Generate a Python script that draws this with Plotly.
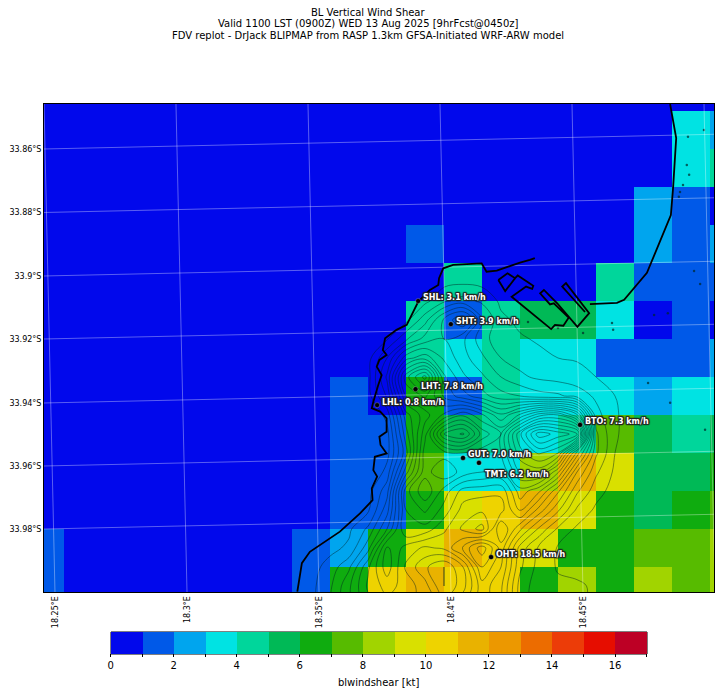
import plotly.graph_objects as go

# Model grid: cell index (i across, j down), one cell = 1.3 km
shear_kt = [
    [0.5]*19,
    [0.5]*17 + [3.5, 2.5],
    [0.5]*17 + [3.5, 4.5],
    [0.5]*16 + [2.5, 1.5, 0.5],
    [0.5]*10 + [1.5] + [0.5]*5 + [2.5, 1.5, 2.5],
    [0.5]*11 + [4.5] + [0.5]*3 + [4.5, 1.5, 1.5, 1.5],
    [0.5]*10 + [4.5, 1.5, 4.5, 5.5, 5.5, 3.5, 0.5, 1.5, 0.5],
    [0.5]*10 + [4.5, 3.5, 4.5, 3.5, 3.5, 1.5, 1.5, 1.5, 2.5],
    [0.5]*8 + [1.5, 0.5, 6.5, 1.5, 4.5, 3.5, 3.5, 3.5, 2.5, 3.5, 3.5],
    [0.5]*8 + [1.5, 1.5, 6.5, 5.5, 4.5, 3.5, 4.5, 7.5, 5.5, 4.5, 5.5],
    [0.5]*8 + [1.5, 1.5, 7.5, 3.5, 3.5, 8.5, 11.5, 9.5, 5.5, 5.5, 6.5],
    [0.5]*8 + [1.5, 1.5, 6.5, 9.5, 10.5, 11.5, 9.5, 6.5, 5.5, 6.5, 7.5],
    [1.5] + [0.5]*6 + [1.5, 2.5, 6.5, 9.5, 11.5, 10.5, 9.5, 6.5, 6.5, 7.5, 7.5, 8.5],
    [1.5] + [0.5]*6 + [1.5, 6.5, 10.5, 11.5, 10.5, 10.5, 6.5, 8.5, 6.5, 8.5, 7.5, 8.5],
]

level_colors = [
    "#0108ec", "#0059e8", "#00a5ee", "#00e3e3", "#00d69b", "#00b956",
    "#0fac0f", "#57bb00", "#a1d400", "#d9e000", "#eed300", "#e9b200",
    "#ec9800", "#ec6c00", "#ec3c08", "#e60d00", "#bd0025",
]

title_lines = [
    "BL Vertical Wind Shear",
    "Valid 1100 LST (0900Z) WED 13 Aug 2025 [9hrFcst@0450z]",
    "FDV replot - DrJack BLIPMAP from RASP 1.3km GFSA-Initiated WRF-ARW model",
]

# Lat/lon graticule in grid coordinates (it is slanted on the model grid)
lon_labels = ["18.25°E", "18.3°E", "18.35°E", "18.4°E", "18.45°E"]
lon_top_i = [-0.026, 3.447, 6.921, 10.395, 13.868, 17.342]
lon_bottom_i = [0.263, 3.737, 7.211, 10.684, 14.158, 17.632]
lat_labels = ["33.86°S", "33.88°S", "33.9°S", "33.92°S", "33.94°S", "33.96°S", "33.98°S"]
lat_left_j = [1.5, 3.171, 4.842, 6.5, 8.184, 9.842, 11.5]
lat_right_j = [1.113, 2.784, 4.455, 6.113, 7.797, 9.455, 11.113]

# Coastline pieces, None breaks the line
coast_i = [16.45, 16.61, 16.53, 16.47, 15.84, 15.24, 15.05, 14.34, None,
           12.89, 12.76, 12.5, 12.15, 11.89, 11.62, 11.49, 11.1, 10.74, 10.48, 10.37, 10.35, 10.13,
           9.82, 9.52, 9.25, 8.95, 8.89, 8.99, 8.8, 8.73, 8.86, 8.77, 8.64, 8.6, 8.82, 8.99, 8.99,
           8.8, 8.83, 8.99, 8.68, 8.64, 8.74, 8.6, 8.62, 8.29, 7.76, 6.97, 6.76, 6.64, None,
           11.93, 12.17, 12.37, 12.44, 12.85, 12.82, 12.66, 12.28, 13.32, 13.42, 13.64, 13.78, 13.39,
           13.29, 13.03, 13.13, 13.48, 14.01, 14.32, 13.71, 13.61, 14.21, None,
           11.93, 12.11, 12.37]
coast_j = [0.32, 1.21, 2.5, 3.24, 4.76, 5.47, 5.55, 5.58, None,
           4.37, 4.42, 4.49, 4.6, 4.7, 4.73, 4.51, 4.53, 4.55, 4.64, 4.9, 5.08, 5.21,
           5.52, 6.13, 6.26, 6.48, 6.79, 6.92, 7.05, 7.23, 7.45, 7.71, 8.15, 8.32, 8.41, 8.59, 8.94,
           9.07, 9.29, 9.51, 9.6, 9.95, 10.12, 10.43, 10.74, 11.09, 11.57, 12.1, 12.4, 13.15, None,
           4.95, 4.77, 4.9, 4.83, 5.1, 5.18, 5.12, 5.39, 6.24, 6.13, 6.15, 5.94, 5.56,
           5.59, 5.3, 5.21, 5.56, 6.18, 5.82, 5.03, 5.12, 5.79, None,
           4.95, 5.24, 4.9]

# Terrain heights (m) estimated from the contours
terrain_i = [6.5 + 0.5 * k for k in range(20)]
terrain_j = [4.5 + 0.5 * k for k in range(19)]
S = -50
terrain_m = [
    [S, S, S, S, S, S, S, S, S, S, S, S, S, S, S, S, S, S, S, S],
    [S, S, S, S, S, S, S, S, 5, 10, 5, S, S, S, S, S, S, S, S, S],
    [S, S, S, S, S, S, S, 5, 60, 90, 60, 10, 5, S, S, S, S, S, S, S],
    [S, S, S, S, S, S, 5, 100, 230, 320, 130, 30, 10, 5, 5, 0, 5, S, S, S],
    [S, S, S, S, S, 15, 110, 190, 220, 180, 90, 40, 25, 15, 10, 10, 5, 0, S, S],
    [S, S, S, S, 0, 120, 300, 350, 260, 190, 130, 70, 50, 30, 20, 15, 10, 0, S, S],
    [S, S, S, S, 0, 180, 500, 640, 330, 230, 180, 120, 80, 60, 50, 40, 20, 5, S, S],
    [S, S, S, S, 0, 130, 420, 480, 360, 290, 240, 190, 170, 140, 130, 100, 60, 20, 0, S],
    [S, S, S, S, S, 40, 300, 400, 480, 560, 480, 380, 480, 600, 620, 480, 90, 25, 0, S],
    [S, S, S, S, S, 0, 250, 450, 720, 780, 600, 520, 760, 950, 900, 850, 130, 25, 0, S],
    [S, S, S, S, S, 0, 200, 500, 500, 520, 490, 520, 700, 780, 720, 400, 130, 20, 0, S],
    [S, S, S, S, S, 40, 300, 500, 560, 500, 470, 470, 620, 640, 480, 220, 80, 10, 0, S],
    [S, S, S, S, 0, 100, 450, 560, 450, 350, 340, 330, 500, 430, 280, 130, 40, 0, S, S],
    [S, S, S, S, 10, 150, 420, 480, 400, 300, 280, 300, 430, 300, 180, 60, 10, 0, S, S],
    [S, S, S, 10, 80, 220, 420, 400, 330, 260, 200, 420, 280, 160, 60, 10, 0, S, S, S],
    [S, S, 5, 30, 150, 380, 300, 260, 280, 380, 500, 350, 150, 60, 15, 5, 0, S, S, S],
    [S, 0, 40, 110, 260, 400, 260, 180, 120, 220, 420, 320, 130, 50, 15, 10, 8, 5, 0, S],
    [S, 5, 60, 160, 280, 340, 300, 240, 120, 200, 350, 280, 100, 40, 30, 25, 15, 5, 0, S],
    [S, 5, 70, 160, 250, 300, 280, 260, 200, 260, 360, 280, 100, 30, 25, 25, 15, 5, 0, S],
]

# Small rocks and closed loops that are left out of the height grid
spot_i = [16.92, 17.34, 16.89, 16.95, 16.79, 16.71, 16.68, 17.08, 17.24, 16.03, 16.39,
          14.92, 14.95, 15.87, 16.45, 17.37, 12.71, 13.5, 14.16]
spot_j = [1.18, 1.0, 1.92, 2.18, 2.45, 2.63, 2.76, 4.71, 5.05, 5.87, 5.82,
          6.08, 6.26, 7.66, 8.18, 8.89, 6.05, 6.21, 6.34]

station_names = ["SHL", "SHT", "LHT", "LHL", "BTO", "GUT", "TMT", "OHT"]
station_kmh = [3.1, 3.9, 7.8, 0.8, 7.3, 7.0, 6.2, 18.5]
station_i = [9.82, 10.68, 9.75, 8.74, 14.08, 11.0, 11.42, 11.74]
station_j = [5.5, 6.11, 7.82, 8.24, 8.76, 9.63, 9.76, 12.24]

# Stepped colour scale, one band per kt
n = len(level_colors)
colorscale = []
for k, c in enumerate(level_colors):
    colorscale.append([k / n, c])
    colorscale.append([(k + 1) / n, c])

fig = go.Figure()

fig.add_trace(go.Heatmap(
    z=shear_kt,
    zmin=0, zmax=n,
    colorscale=colorscale,
    hoverinfo="skip",
    colorbar=dict(
        orientation="h",
        xref="container", yref="container",
        x=119 / 721, xanchor="left",
        y=1 - 632 / 692, yanchor="top",
        len=536, lenmode="pixels",
        thickness=22, thicknessmode="pixels",
        xpad=0, ypad=0,
        outlinewidth=0,
        ticks="outside", ticklen=3, tickcolor="black",
        tickvals=list(range(n + 1)),
        ticktext=[str(v) if v % 2 == 0 else "" for v in range(n + 1)],
        tickfont=dict(size=10, color="black"),
        title=dict(text="blwindshear [kt]", side="bottom", font=dict(size=10, color="black")),
    ),
))

# Colorbar frame, the built-in outline runs past the colours
fig.add_shape(type="rect", xref="paper", yref="paper",
              x0=(111 - 44) / 670, x1=(647 - 44) / 670,
              y0=(592 - 654) / 488, y1=(592 - 632) / 488,
              line=dict(color="black", width=1))

# Terrain contours
fig.add_trace(go.Contour(
    x=terrain_i, y=terrain_j, z=terrain_m,
    contours=dict(coloring="none", start=20, end=1000, size=50),
    line=dict(color="rgba(0,30,30,0.65)", width=0.7, smoothing=1.0),
    showscale=False, hoverinfo="skip",
))

fig.add_trace(go.Scatter(
    x=spot_i, y=spot_j, mode="markers",
    marker=dict(size=2.5, color="rgba(0,40,40,0.7)"),
    hoverinfo="skip", showlegend=False,
))

# Graticule
for top, bottom in zip(lon_top_i, lon_bottom_i):
    fig.add_trace(go.Scatter(
        x=[top, bottom], y=[0.316, 13.158], mode="lines",
        line=dict(color="rgba(255,255,255,0.35)", width=1),
        hoverinfo="skip", showlegend=False,
    ))
for left, right in zip(lat_left_j, lat_right_j):
    fig.add_trace(go.Scatter(
        x=[-0.026, 17.605], y=[left, right], mode="lines",
        line=dict(color="rgba(255,255,255,0.35)", width=1),
        hoverinfo="skip", showlegend=False,
    ))

# Coast
fig.add_trace(go.Scatter(
    x=coast_i, y=coast_j, mode="lines",
    line=dict(color="black", width=1.8),
    hoverinfo="skip", showlegend=False,
))

# Stations
fig.add_trace(go.Scatter(
    x=station_i, y=station_j, mode="markers",
    marker=dict(size=5, color="black", line=dict(color="rgba(255,255,255,0.5)", width=0.5)),
    hoverinfo="skip", showlegend=False,
))
halo = ",".join(f"{dx}px {dy}px 1px #222" for dx in (-1, 0, 1) for dy in (-1, 0, 1))
for name, kmh, i, j in zip(station_names, station_kmh, station_i, station_j):
    fig.add_annotation(
        x=i, y=j, text=f"{name}: {kmh} km/h", showarrow=False,
        xanchor="left", yanchor="middle",
        xshift=4 if name == "TMT" else 3,
        yshift=-12 if name == "TMT" else 3,
        font=dict(family="DejaVu Sans", size=8, color="white", weight="bold", shadow=halo),
    )

# Title lines sit closer together than a plotly <br> allows
for line, shift in zip(title_lines, [92, 81, 69]):
    fig.add_annotation(
        xref="paper", yref="paper", x=(368 - 44) / 670, y=1, yanchor="middle",
        yshift=shift, text=line, showarrow=False,
        font=dict(size=10, color="black"),
    )

fig.update_xaxes(
    range=[-0.026, 17.605], tickmode="array",
    tickvals=lon_bottom_i[:5], ticktext=lon_labels, tickangle=-90,
    tickfont=dict(size=8, color="black"), ticks="",
    showgrid=False, zeroline=False, showline=True, mirror=True, linecolor="black", linewidth=1,
)
fig.update_yaxes(
    range=[13.158, 0.316], tickmode="array",
    tickvals=lat_left_j, ticktext=lat_labels,
    tickfont=dict(size=8, color="black"), ticks="",
    showgrid=False, zeroline=False, showline=True, mirror=True, linecolor="black", linewidth=1,
)

fig.update_layout(
    width=721, height=692,
    margin=dict(l=44, r=7, t=104, b=100, autoexpand=False),
    plot_bgcolor="white", paper_bgcolor="white",
    font=dict(family="DejaVu Sans", color="black"),
    showlegend=False,
)

fig.write_html("out.html", config=dict(displayModeBar=False),
               post_script="document.body.style.margin='0';")
